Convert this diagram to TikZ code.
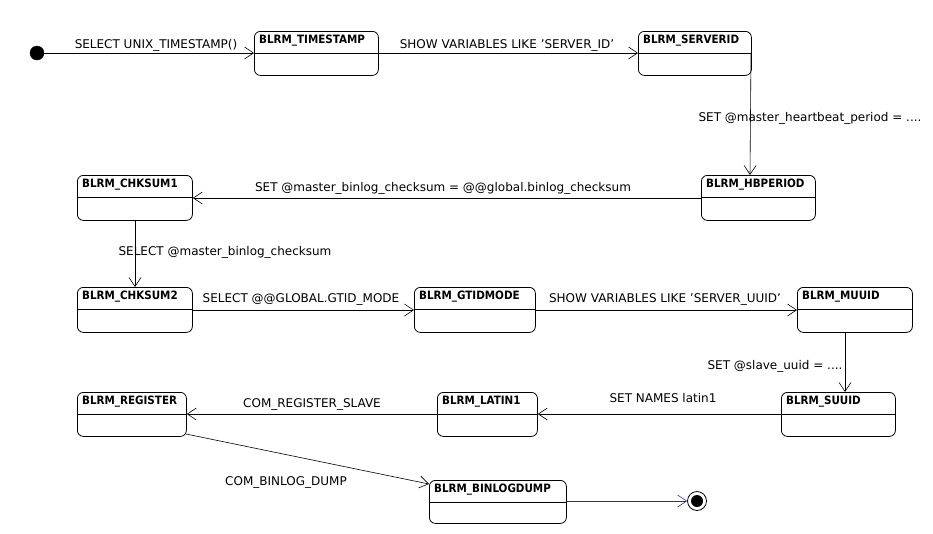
\documentclass[tikz,border=0pt]{standalone}
\usepackage{fontspec}
\setmainfont{DejaVu Sans}
\newfontfamily\condfont{DejaVu Sans Condensed}
\usetikzlibrary{arrows.meta}
\begin{document}
\begin{tikzpicture}[x=1pt,y=-1pt,
  st/.style={draw,rounded corners=6pt,line width=0.8pt},
  ttl/.style={font=\condfont\fontsize{11.5}{13}\selectfont\bfseries,anchor=north west,inner sep=0pt},
  lb/.style={font=\fontsize{12}{14}\selectfont,inner sep=1pt},
  tr/.style={-{Straight Barb[length=9pt,width=12pt,line width=0.6pt]},line width=0.6pt}]
\useasboundingbox (0,0) rectangle (933,533);
\newcommand\mystate[6]{% name, l,t,r,b, text
  \node[st,minimum width=#4-#2,minimum height=#5-#3,inner sep=0pt,anchor=north west] (#1) at (#2,#3) {};
  \draw (#2,#3+22) -- (#4,#3+22);
  \node[ttl] at (#2+5,#3+4) {#6};}
\mystate{ts}{254}{31}{378}{75}{BLRM\_TIMESTAMP}
\mystate{sid}{638}{31}{751}{75}{BLRM\_SERVERID}
\mystate{hb}{701}{175}{815}{220}{BLRM\_HBPERIOD}
\mystate{c1}{77}{175}{192}{220}{BLRM\_CHKSUM1}
\mystate{c2}{77}{287}{192}{332}{BLRM\_CHKSUM2}
\mystate{gt}{414}{287}{535}{332}{BLRM\_GTIDMODE}
\mystate{mu}{797}{287}{912}{332}{BLRM\_MUUID}
\mystate{su}{781}{392}{895}{436}{BLRM\_SUUID}
\mystate{la}{437}{392}{537}{436}{BLRM\_LATIN1}
\mystate{re}{77}{392}{186}{436}{BLRM\_REGISTER}
\mystate{bd}{429}{480}{566}{523}{BLRM\_BINLOGDUMP}
\node[circle,fill,draw,minimum size=14pt,inner sep=0pt] (init) at (37,53) {};
\node[circle,draw,line width=0.8pt,fill=white,minimum size=19pt,inner sep=0pt] (fin) at (697,501) {};
\node[circle,fill,minimum size=12pt,inner sep=0pt] at (fin) {};
\coordinate (a1) at (751,53); \coordinate (a2) at (750,175);
\coordinate (b1) at (135,220); \coordinate (b2) at (135,287);
\coordinate (m1) at (845,332); \coordinate (m2) at (845,392);
\coordinate (r1) at (186,434); \coordinate (r2) at (429,484);
\draw[tr] (init.east) -- (ts.west|-init);
\draw[tr] (ts.east|-init) -- (sid.west|-init);
\draw[tr] (a1) -- (a2);
\draw[tr] (hb.west|-0,198) -- (c1.east|-0,198);
\draw[tr] (b1) -- (b2);
\draw[tr] (c2.east|-0,310) -- (gt.west|-0,310);
\draw[tr] (gt.east|-0,310) -- (mu.west|-0,310);
\draw[tr] (m1) -- (m2);
\draw[tr] (su.west|-0,414) -- (la.east|-0,414);
\draw[tr] (la.west|-0,414) -- (re.east|-0,414);
\draw[tr] (r1) -- (r2);
\draw[tr,draw={rgb,255:red,40;green,40;blue,200}] (bd.east|-0,501) -- (fin.west);
\node[lb] at (156,45) {SELECT UNIX\_TIMESTAMP()};
\node[lb] at (507,45) {SHOW VARIABLES LIKE 'SERVER\_ID'};
\node[lb] at (810,118) {SET @master\_heartbeat\_period = ....};
\node[lb] at (443,188) {SET @master\_binlog\_checksum = @@global.binlog\_checksum};
\node[lb] at (225,252) {SELECT @master\_binlog\_checksum};
\node[lb] at (301,299) {SELECT @@GLOBAL.GTID\_MODE};
\node[lb] at (665,299) {SHOW VARIABLES LIKE 'SERVER\_UUID'};
\node[lb] at (775,366) {SET @slave\_uuid = ....};
\node[lb] at (663,398) {SET NAMES latin1};
\node[lb] at (312,404) {COM\_REGISTER\_SLAVE};
\node[lb] at (286,482) {COM\_BINLOG\_DUMP};
\end{tikzpicture}
\end{document}
